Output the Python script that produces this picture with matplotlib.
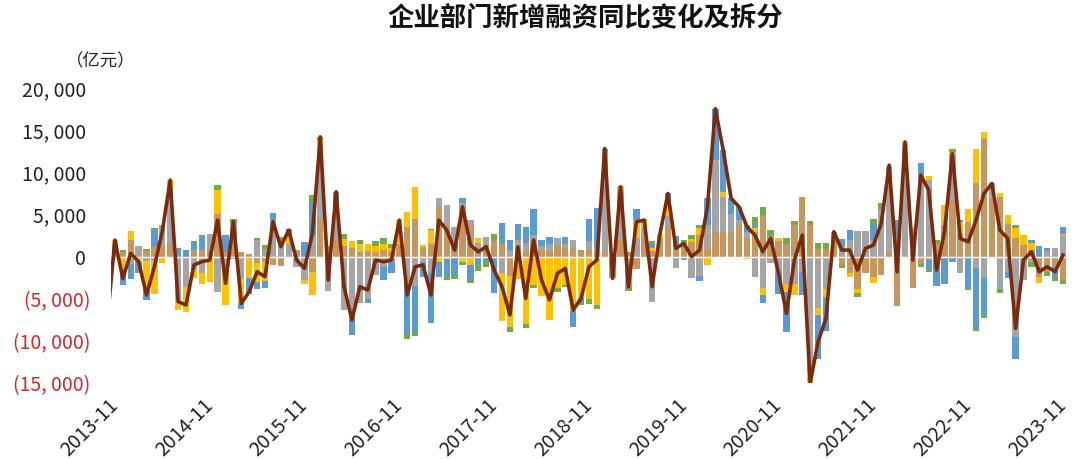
import numpy as np
import pandas as pd
import matplotlib
matplotlib.use('Agg')
import matplotlib.pyplot as plt

plt.rcParams['font.family'] = ['Noto Sans CJK SC', 'DejaVu Sans']

# 月份: 2013-11 ~ 2023-11
months = pd.period_range('2013-11', '2023-11', freq='M')

# 各分项同比变化 (亿元), 按堆叠顺序
tan = [1500, 600, 2000, 0, 650, 1300, 1200, 1500, 0, 0, 800, 800,
       1000, 5100, 600, 1500, 600, 300, -800, -600, -1000, -1100, 0, 800,
       0, -1800, 4500, 1300, 2000, 1200, 1000, 600, 700, 600, 800, 600,
       1500, 3500, 4500, 1100, 1500, 5900, 3500, 2000, 4500, 3700, 1000, 1500,
       1800, 1500, -2300, 1200, 600, 1500, 800, 600, 1200, 1000, 1000, 800,
       800, 500, 600, -2600, 2000, 500, -1500, 2200, 700, 2100, 3500, 1500,
       1400, 1700, 2600, 800, 2900, 2900, 2900, 3700, 2100, 2900, 4900, 2400,
       1900, 1500, 3700, 7100, 3700, 900, 900, 2000, -1000, -2000, -3800, -2000,
       -2400, -2200, 600, -5900, 0, -3750, -900, -400, 1500, 3800, 6700, 2700,
       4150, 8700, 14000, 7000, 7100, 3900, 2200, 1400, 800, -2400, -1800, -1200,
       -2750]
gray = [-300, 0, -900, 1300, -500, -500, 2600, 6500, -5000, -3600, -1600, -2000,
        1700, -4150, -1500, 2500, -2700, -300, 2000, 900, 4300, 1700, 1500, -1200,
        -2800, 2500, 7500, -4100, 2800, -6300, -7300, -5500, -5000, -2200, -1200, -600,
        0, -3500, -3500, -600, -2000, 1000, 2600, 1500, 1800, 600, 600, 800,
        0, -2000, 800, 800, 1000, 1000, 500, 900, 1000, 500, 1000, 0,
        1000, 500, 11700, 0, 5800, -3600, 2200, 1200, -5400, 0, 1300, -1400,
        300, -2500, -2300, 3000, 8500, 4150, 2200, 600, 800, -2400, -3750, -800,
        -2000, -3200, -3200, -1800, -13500, -6100, -3800, 900, 1100, 2000, 3050, 3000,
        2000, 5700, 10200, 2500, 13200, 3150, 9800, 9100, 0, 0, 5400, -2000,
        0, -1400, -2600, 1700, -3800, -1800, -9500, -2800, -600, 0, 700, 1000,
        2500]
yellow = [500, -1600, 1000, -700, -3200, -4000, -800, 1100, -1300, -2950, -1000, -1200,
          -3000, 2800, -4300, 0, -2800, -2300, -2200, -2300, 0, 0, 1200, 0,
          -400, -2800, 1700, 0, 1000, 900, 800, 900, 800, 700, 700, 400,
          2800, 1800, 3700, 300, 1700, -600, -300, 0, -700, -1000, 600, 0,
          0, -5600, -6000, -2700, -8000, -3400, -4700, -7500, -3750, -3350, -6500, -4900,
          -5000, -5700, 0, 0, 600, 0, 2100, 1000, 300, 600, 1500, 0,
          0, 400, 800, -1000, 0, 600, 0, 0, -300, 500, -800, 0,
          300, -1000, -1400, 0, -1500, -800, -1000, 0, 0, -400, -500, 0,
          -700, 0, 0, 0, 400, 400, 0, 500, 0, 2300, 300, 1400,
          1550, 4100, 800, 0, 400, 1000, 1150, 1150, 800, -750, 0, 0,
          200]
blue = [0, -1800, -1750, -1200, -1400, 1800, 0, 0, 1000, 800, 800, 1800,
        0, 0, 2000, -300, -700, -1800, -800, -850, 900, 0, 600, 0,
        1700, 4000, 0, 0, 1900, 0, -2000, 0, -500, 0, -1600, -1300,
        0, -5700, -5500, -1800, -5900, -1800, -2000, -2200, 600, -1800, -1000, -600,
        -4300, 2500, 1200, 1900, 1900, 3200, 700, 850, 0, 850, -1800, 0,
        2600, 4800, 500, 0, 0, 0, 1400, 0, 500, 0, 1200, 700,
        -400, 0, -650, 3200, 6100, 5000, 1800, 1200, 500, 300, -1000, 0,
        -2400, -4700, 0, -2750, 0, -5300, -4000, 0, 1000, 1200, 0, 0,
        1800, 0, 0, 1800, 0, 0, 1300, -1100, -3550, -3200, -600, 200,
        -3750, -7100, -4300, 0, 0, -800, -2700, 0, 350, 1250, 300, -1200,
        800]
green = [0, 200, 0, 0, 250, 300, 0, 0, 0, 0, 300, 0,
         0, 550, 0, 400, 0, 0, 200, 450, 0, 600, -200, 0,
         0, 800, 500, 0, 0, 600, 0, 500, 0, 500, 650, 500,
         0, -600, -400, 0, 100, 0, -500, -500, -300, -300, -700, -600,
         900, 0, -600, 0, -500, -300, 0, 0, -450, -300, 0, -800,
         -600, -500, 0, 0, -200, -500, 0, 0, 300, 0, 0, 200,
         300, 400, 350, 0, 0, 0, 0, 400, 300, 1000, 1000, 700,
         0, 700, 500, 0, 500, 700, 700, 0, -400, 0, -450, 0,
         600, 600, 0, 0, 0, 0, -300, -300, 450, 0, 400, 0,
         -200, -300, -400, 0, -500, 0, 400, 0, -600, 0, -500, -450,
         -500]

# 企业部门新增融资同比变化 (折线)
total_prev = -8000  # 2013-10, 被坐标轴截掉
total = [1950, -2600, 380, -600, -4560, -1200, 3000, 9070, -5350, -5750, -1000, -610,
         -415, 4325, -3180, 4130, -5550, -4170, -1800, -2390, 4130, 1165, 3140, -415,
         -1400, 2745, 14200, -2785, 7680, -3575, -7525, -3575, -3970, -415, -610, -415,
         4325, -4560, -1200, -1000, -4560, 4325, 3140, 770, 5900, 1360, 570, 1165,
         -1600, -3575, -6930, 1165, -4960, 1955, -2785, -5150, -2000, -1400, -6340, -4960,
         -1200, -415, 12820, -2590, 8275, -3575, 4130, 4325, -3575, 2745, 7485, 970,
         1560, 0, 770, 5900, 17540, 12600, 6890, 5900, 3535, 2550, 570, 2150,
         -2000, -6735, -415, 2550, -15030, -10100, -7330, 2945, 770, 770, -1600, 970,
         1360, 3930, 10840, -1800, 13600, -415, 9660, 7880, -1600, 2945, 12225, 2150,
         1760, 4325, 7485, 8670, 3140, 2150, -8515, -415, 570, -1800, -1200, -1800,
         180]

series = [tan, gray, yellow, blue, green]
colors = ['#C8965C', '#A5A5A5', '#FFC000', '#5B9BD5', '#70AD47']

yticks = list(range(-15000, 20001, 5000))

fig = plt.figure(figsize=(10.8, 4.59), dpi=100)
ax = fig.add_axes([0.1031, 0.1656, 0.8848, 0.6427])

n = len(months)
x = np.arange(n)
pos_base = np.zeros(n)
neg_base = np.zeros(n)
for vals, c in zip(series, colors):
    v = np.array(vals, dtype=float)
    bottom = np.where(v >= 0, pos_base, neg_base)
    ax.bar(x, v, bottom=bottom, width=0.8, color=c, linewidth=0, zorder=2)
    pos_base += np.clip(v, 0, None)
    neg_base += np.clip(v, None, 0)

ax.axhline(0, color='white', lw=1.0, zorder=3)
ax.plot(np.arange(-1, n), [total_prev] + total, color='#7B2A0C', lw=2.6, zorder=4)

ax.set_xlim(-0.45, n - 0.5)
ax.set_ylim(-15000, 20000)

# y轴标签, 负数用括号并标红
ylabels = []
for v in yticks:
    s = f'{abs(v):,}'.replace(',', ', ')
    ylabels.append(f'({s})' if v < 0 else s + ' ')
ax.set_yticks(yticks)
ax.set_yticklabels(ylabels, fontsize=14)
for t, v in zip(ax.get_yticklabels(), yticks):
    t.set_color('#D8262C' if v < 0 else '#222222')

xt = x[::12]
ax.set_xticks(xt)
ax.set_xticklabels([months[i].strftime('%Y-%m') for i in xt], fontsize=14,
                   rotation=45, ha='right', va='center', rotation_mode='anchor',
                   color='#222222')
ax.tick_params(axis='both', length=0)
ax.tick_params(axis='y', pad=15)
ax.tick_params(axis='x', pad=14)
for s in ax.spines.values():
    s.set_visible(False)

fig.text(0.5417, 0.962, '企业部门新增融资同比变化及拆分', ha='center', va='center',
         fontsize=19, fontweight='bold', color='#111111')
fig.text(0.061, 0.866, '（亿元）', ha='left', va='center', fontsize=12.5, color='#222222')

fig.savefig('out.png', dpi=100)
